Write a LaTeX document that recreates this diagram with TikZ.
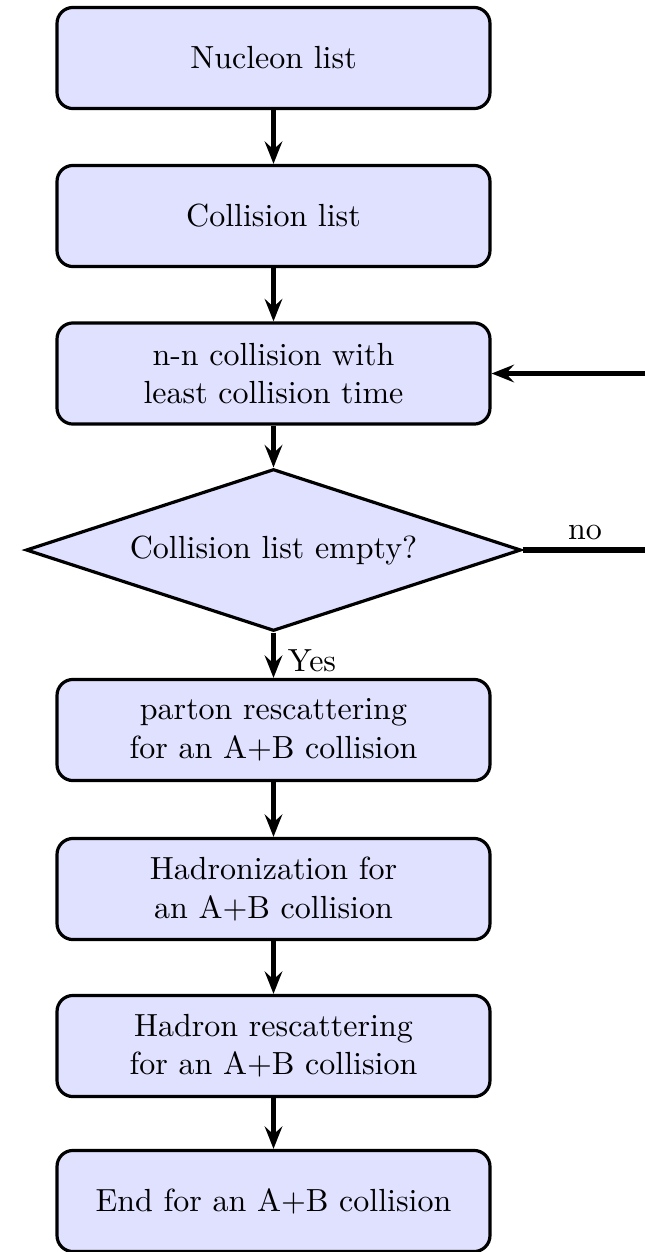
\documentclass[tikz,border=0pt]{standalone}
\usetikzlibrary{shapes.geometric,arrows.meta}
\begin{document}
\begin{tikzpicture}[x=0.3125pt,y=-0.3125pt,
 box/.style={draw,line width=1pt,rounded corners=5pt,fill=blue!12,minimum width=135.3pt,minimum height=31.6pt,align=center,inner sep=2pt},
 dec/.style={draw,diamond,line width=1pt,fill=blue!12,minimum width=154.7pt,minimum height=50.6pt,inner sep=0pt,aspect=3},
 arr/.style={line width=1.8pt,-{Stealth[length=7pt,width=5.5pt,inset=2.5pt]}},
 lab/.style={inner sep=1pt}]
\useasboundingbox (0,0) rectangle (644,1252);
\node[box] (b1) at (273.5,58) {Nucleon list};
\node[box] (b2) at (273.5,216) {Collision list};
\node[box] (b3) at (273.5,373.5) {n-n collision with\\least collision time};
\node[dec] (d) at (273.5,550) {Collision list empty?};
\node[box] (b4) at (273.5,730) {parton rescattering\\for an A+B collision};
\node[box] (b5) at (273.5,889) {Hadronization for\\an A+B collision};
\node[box] (b6) at (273.5,1046) {Hadron rescattering\\for an A+B collision};
\node[box] (b7) at (273.5,1201) {End for an A+B collision};
\coordinate (c1) at (720,550);
\draw[arr] (b1) -- (b2);
\draw[arr] (b2) -- (b3);
\draw[arr] (b3) -- (d);
\draw[arr] (d) -- (b4);
\draw[arr] (b4) -- (b5);
\draw[arr] (b5) -- (b6);
\draw[arr] (b6) -- (b7);
\draw[arr] (d.east) -- (c1) |- (b3.east);
\node[lab] (no) at (585,532) {no};
\node[lab] (yes) at (312,661) {Yes};
\end{tikzpicture}
\end{document}
